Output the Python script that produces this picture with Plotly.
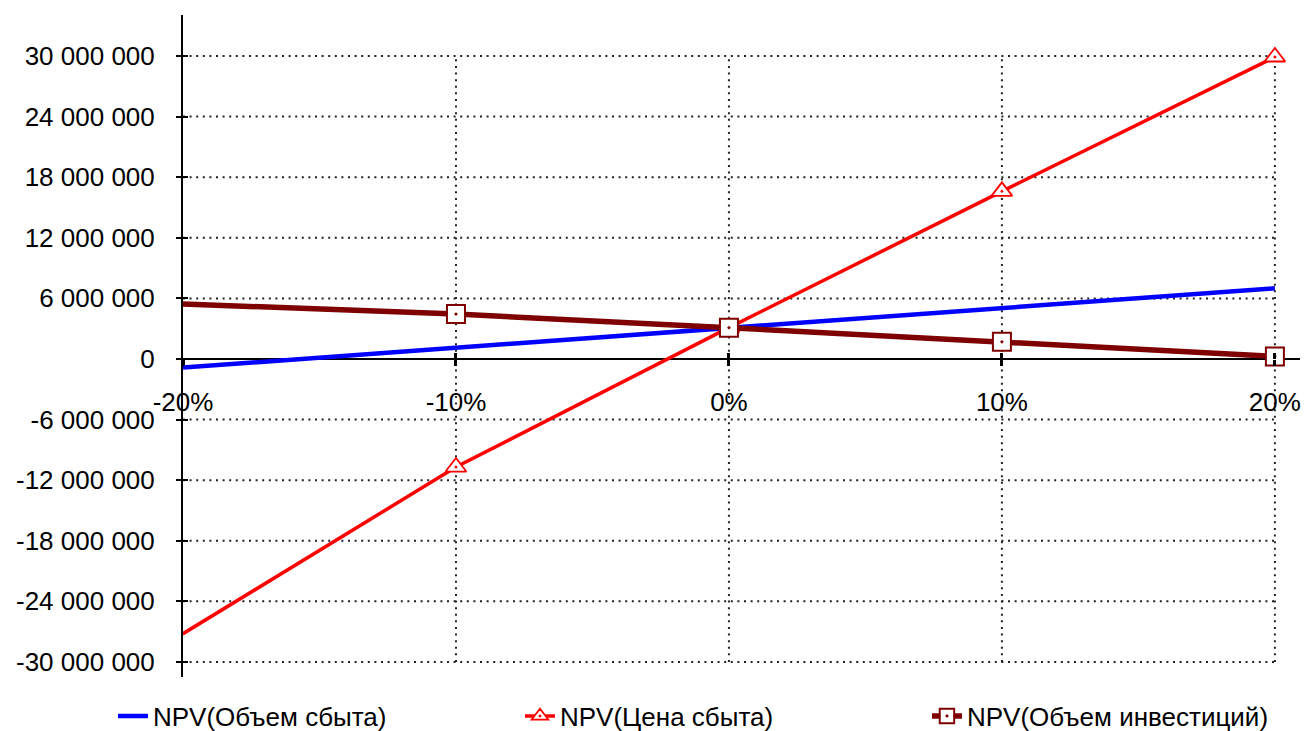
import plotly.graph_objects as go

# ---- data ----
x_change = [-0.20, -0.10, 0.0, 0.10, 0.20]
npv_volume = [-0.85e6, 1.1e6, 3.1e6, 5.05e6, 7.0e6]
npv_price = [-27.2e6, -10.7e6, 3.1e6, 16.6e6, 29.9e6]
npv_invest = [5.45e6, 4.45e6, 3.1e6, 1.7e6, 0.25e6]

series_names = ["NPV(Объем сбыта)", "NPV(Цена сбыта)", "NPV(Объем инвестиций)"]

x_tick_values = [-0.2, -0.1, 0.0, 0.1, 0.2]
x_tick_labels = ["-20%", "-10%", "0%", "10%", "20%"]
y_tick_values = [-30e6, -24e6, -18e6, -12e6, -6e6, 0, 6e6, 12e6, 18e6, 24e6, 30e6]
y_tick_labels = ["-30 000 000", "-24 000 000", "-18 000 000", "-12 000 000", "-6 000 000", "0",
                 "6 000 000", "12 000 000", "18 000 000", "24 000 000", "30 000 000"]

# ---- layout constants ----
x_range = [-0.2, 0.2092]
y_range = [-31.49e6, 34.06e6]
FONT = "Liberation Sans, Arial, sans-serif"
marker_sizes = [0, 18, 18, 18, 18]

fig = go.Figure()
fig.add_trace(go.Scatter(x=x_change, y=npv_volume, name=series_names[0], mode="lines",
                         line=dict(color="#0000ff", width=4.5), cliponaxis=False))
fig.add_trace(go.Scatter(x=x_change, y=npv_price, name=series_names[1], mode="lines+markers",
                         line=dict(color="#ff0000", width=3.5),
                         marker=dict(symbol="triangle-up-dot", size=marker_sizes, color="white",
                                     opacity=1, line=dict(color="#ff0000", width=1.8)),
                         cliponaxis=False))
fig.add_trace(go.Scatter(x=x_change, y=npv_invest, name=series_names[2], mode="lines+markers",
                         line=dict(color="#7f0000", width=5.5),
                         marker=dict(symbol="square-dot", size=marker_sizes, color="white",
                                     opacity=1, line=dict(color="#7f0000", width=2)),
                         cliponaxis=False))

# dotted grid restricted to the tick region
grid_dash = "2px,4.6px"
shapes = []
for yv in y_tick_values:
    if yv == 0:
        continue
    shapes.append(dict(type="line", xref="x", yref="y", x0=x_tick_values[0], x1=x_tick_values[-1],
                       y0=yv, y1=yv, layer="below",
                       line=dict(color="#222222", width=2, dash=grid_dash)))
for xv in x_tick_values[1:]:
    shapes.append(dict(type="line", xref="x", yref="y", x0=xv, x1=xv,
                       y0=y_tick_values[0], y1=y_tick_values[-1], layer="below",
                       line=dict(color="#222222", width=2, dash=grid_dash)))

zero_pos = (0 - y_range[0]) / (y_range[1] - y_range[0])

fig.update_layout(
    width=1306, height=731,
    margin=dict(l=183, r=6, t=15, b=54, autoexpand=False),
    paper_bgcolor="white", plot_bgcolor="white",
    font=dict(family=FONT, size=26, color="black"),
    shapes=shapes,
    showlegend=True,
    legend=dict(orientation="h", x=-0.0627, xanchor="left", y=-0.059, yanchor="middle",
                font=dict(size=26, family=FONT), entrywidth=362, entrywidthmode="pixels",
                itemwidth=30, bgcolor="rgba(0,0,0,0)"),
    xaxis=dict(range=x_range, tickvals=x_tick_values, ticktext=x_tick_labels,
               showgrid=False, zeroline=False, showline=False, automargin=False,
               anchor="free", position=zero_pos, ticklabeloverflow="allow",
               ticks="outside", ticklen=6, tickwidth=3, tickcolor="black",
               ticklabelstandoff=14, tickfont=dict(size=26)),
    xaxis2=dict(range=x_range, overlaying="x", anchor="free", position=zero_pos,
                tickvals=x_tick_values, ticks="inside", ticklen=6, tickwidth=3, tickcolor="black",
                showticklabels=False, showgrid=False, zeroline=False, showline=False, automargin=False),
    yaxis=dict(range=y_range, tickvals=y_tick_values, ticktext=y_tick_labels,
               showgrid=False, zeroline=True, zerolinecolor="black", zerolinewidth=2,
               showline=True, linecolor="black", linewidth=2, automargin=False,
               ticks="outside", ticklen=5, tickwidth=2, tickcolor="black",
               ticklabelstandoff=16, tickfont=dict(size=26)),
    yaxis2=dict(range=y_range, overlaying="y", anchor="x", side="left",
                tickvals=y_tick_values, ticks="inside", ticklen=5, tickwidth=2, tickcolor="black",
                showticklabels=False, showgrid=False, zeroline=False, showline=False, automargin=False),
)
# invisible trace to make overlay axes render
fig.add_trace(go.Scatter(x=[x_change[0]], y=[npv_volume[0]], xaxis="x2", yaxis="y2",
                         mode="markers", marker=dict(opacity=0), showlegend=False, hoverinfo="skip"))

fig.write_html(
    "out.html",
    config={"displayModeBar": False},
    post_script="document.body.style.margin='0';document.documentElement.style.overflow='hidden';",
)
